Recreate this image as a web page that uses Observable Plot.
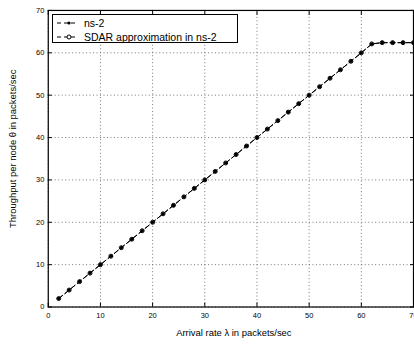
<!DOCTYPE html>
<html>
<head>
<meta charset="utf-8">
<script src="https://cdn.jsdelivr.net/npm/d3@7"></script>
<script src="https://cdn.jsdelivr.net/npm/@observablehq/plot@0.6"></script>
<style>
  html, body { margin: 0; padding: 0; overflow: hidden; background: #fff; width: 414px; height: 344px; }
  #wrap { position: relative; width: 414px; height: 344px; overflow: hidden; font-family: "Liberation Sans", Arial, sans-serif; }
  #legend { position: absolute; left: 52px; top: 14px; width: 184px; height: 27px; border: 1px solid #000; background: #fff; font-size: 10.5px; }
  #legend .row { position: absolute; left: 4px; height: 12px; display: flex; align-items: center; }
  #legend .row span { margin-left: 9px; }
</style>
</head>
<body>
<div id="wrap"></div>
<script>
const arrivalRate = [2,4,6,8,10,12,14,16,18,20,22,24,26,28,30,32,34,36,38,40,42,44,46,48,50,52,54,56,58,60,62,64,66,68,70];
const throughputNs2 = [2,4,6,8,10,12,14,16,18,20,22,24,26,28,30,32,34,36,38,40,42,44,46,48,50,52,54,56,58,60,62.1,62.4,62.4,62.4,62.4];
const throughputSdar = [2,4,6,8,10,12,14,16,18,20,22,24,26,28,30,32,34,36,38,40,42,44,46,48,50,52,54,56,58,60,62.1,62.4,62.4,62.4,62.4];
const xTicks = [0,10,20,30,40,50,60,70];
const yTicks = [0,10,20,30,40,50,60,70];
const seriesNames = ["ns-2", "SDAR approximation in ns-2"];
const xLabel = "Arrival rate λ in packets/sec";
const yLabel = "Throughput per node θ in packets/sec";

const ns2 = arrivalRate.map((x, i) => ({x, y: throughputNs2[i]}));
const sdar = arrivalRate.map((x, i) => ({x, y: throughputSdar[i]}));

const font = "Liberation Sans, Arial, sans-serif";
const chart = Plot.plot({
  width: 416,
  height: 344,
  marginLeft: 48,
  marginRight: 1,
  marginTop: 10,
  marginBottom: 36,
  style: {fontFamily: font, fontSize: "7.5px", color: "#000", background: "#fff"},
  x: {domain: [0, 70], ticks: xTicks},
  y: {domain: [0, 70], ticks: yTicks},
  marks: [
    Plot.gridX(xTicks, {stroke: "#555", strokeOpacity: 1, strokeWidth: 0.8, strokeDasharray: "1,2.5"}),
    Plot.gridY(yTicks, {stroke: "#555", strokeOpacity: 1, strokeWidth: 0.8, strokeDasharray: "1,2.5"}),
    Plot.frame({stroke: "#000", strokeWidth: 1.2}),
    Plot.axisX(xTicks, {anchor: "bottom", tickSize: -4, tickPadding: 10, label: null, fontSize: 7.5}),
    Plot.axisX(xTicks, {anchor: "top", tickSize: -4, text: null, label: null}),
    Plot.axisY(yTicks, {anchor: "left", tickSize: -4, tickPadding: 8, label: null, fontSize: 7.5}),
    Plot.axisY(yTicks, {anchor: "right", tickSize: -4, text: null, label: null}),
    Plot.line(sdar, {x: "x", y: "y", stroke: "#000", strokeWidth: 1, strokeDasharray: "5,3"}),
    Plot.line(ns2, {x: "x", y: "y", stroke: "#000", strokeWidth: 1, strokeDasharray: "5,3"}),
    Plot.dot(sdar, {x: "x", y: "y", r: 2, stroke: "#000", strokeWidth: 1, fill: "none"}),
    Plot.dot(ns2, {x: "x", y: "y", r: 1.8, fill: "#000", stroke: "none"}),
    Plot.text([xLabel], {frameAnchor: "bottom", textAnchor: "middle", dy: 29, dx: 3, fontSize: 9.5, text: d => d, fill: "#000"}),
    Plot.text([yLabel], {frameAnchor: "left", textAnchor: "middle", dx: -35, dy: -10, rotate: -90, fontSize: 9.5, text: d => d, fill: "#000"})
  ]
});

const wrap = document.getElementById("wrap");
wrap.appendChild(chart);

const legend = document.createElement("div");
legend.id = "legend";
const samples = [
  `<svg width="18" height="8"><line x1="0" y1="4" x2="18" y2="4" stroke="#000" stroke-dasharray="4,3"/><circle cx="12" cy="4" r="1.6" fill="#000"/></svg>`,
  `<svg width="18" height="8"><line x1="0" y1="4" x2="18" y2="4" stroke="#000" stroke-dasharray="4,3"/><circle cx="12" cy="4" r="2" fill="#fff" stroke="#000"/></svg>`
];
seriesNames.forEach((name, i) => {
  const row = document.createElement("div");
  row.className = "row";
  row.style.top = (2 + i * 14) + "px";
  row.innerHTML = samples[i] + `<span>${name}</span>`;
  legend.appendChild(row);
});
wrap.appendChild(legend);
</script>
</body>
</html>
